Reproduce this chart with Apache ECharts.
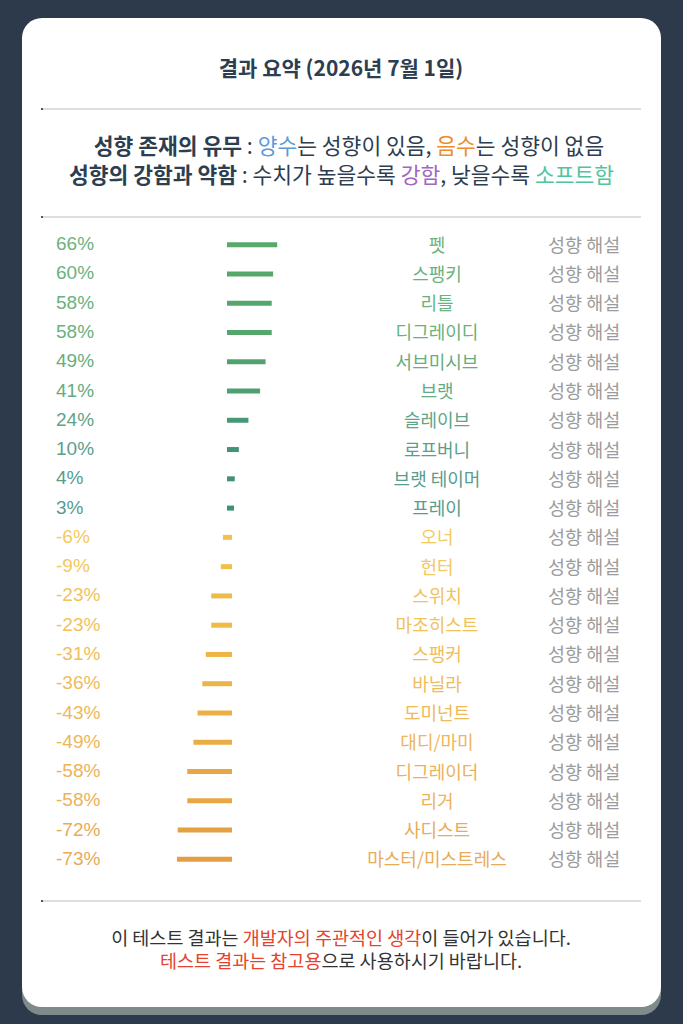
<!DOCTYPE html>
<html>
<head>
<meta charset="utf-8">
<script src="https://cdn.jsdelivr.net/npm/echarts@6/dist/echarts.min.js"></script>
<style>
  html, body { margin: 0; padding: 0; background: #2d3a4c; }
  #main { width: 683px; height: 1024px; }
</style>
</head>
<body>
<div id="main"></div>
<script>
// 성향 이름 (위에서 아래 순서)
const names = ['펫', '스팽키', '리틀', '디그레이디', '서브미시브', '브랫', '슬레이브', '로프버니', '브랫 테이머', '프레이',
  '오너', '헌터', '스위치', '마조히스트', '스팽커', '바닐라', '도미넌트', '대디/마미', '디그레이더', '리거', '사디스트', '마스터/미스트레스'];
// 성향 수치 (%)
const values = [66, 60, 58, 58, 49, 41, 24, 10, 4, 3,
  -6, -9, -23, -23, -31, -36, -43, -49, -58, -58, -72, -73];
const hintText = '성향 해설';

const KR = '"Noto Sans CJK KR", "Noto Sans", sans-serif';

// 값에 따라 색 보간 (양수: 청록→초록, 음수: 노랑→주황)
function hex2rgb(h) {
    return [parseInt(h.slice(1, 3), 16), parseInt(h.slice(3, 5), 16), parseInt(h.slice(5, 7), 16)];
}
function mixRgb(x, y, t) {
    return x.map((c, i) => Math.round(c + (y[i] - c) * t));
}
const posMax = Math.max(...values), negMin = Math.min(...values);
function rgbOf(v) {
    if (v >= 0) return mixRgb(hex2rgb('#3f8e7e'), hex2rgb('#58a96a'), v / posMax);
    return mixRgb(hex2rgb('#f3c648'), hex2rgb('#e59f42'), v / negMin);
}
function colorOf(v) {
    return 'rgb(' + rgbOf(v).join(',') + ')';
}
// 글자는 막대보다 조금 연하게
function textColorOf(v) {
    return 'rgb(' + mixRgb(rgbOf(v), [255, 255, 255], 0.12).join(',') + ')';
}

const chart = echarts.init(document.getElementById('main'), null, { renderer: 'svg' });

function hr(y) {
    return [
        { type: 'line', shape: { x1: 42, y1: y, x2: 641, y2: y }, style: { stroke: '#dedede', lineWidth: 2 } },
        { type: 'rect', shape: { x: 41, y: y - 1, width: 2, height: 2 }, style: { fill: '#555' } }
    ];
}

const option = {
    backgroundColor: '#2d3a4c',
    animation: false,
    grid: { left: 161, width: 137, top: 229, height: 644 },
    xAxis: { type: 'value', min: -100, max: 100, show: false },
    yAxis: { type: 'category', data: names, inverse: true, show: false },
    graphic: [
        // 카드
        { type: 'rect', z: -10, shape: { x: 22, y: 26, width: 639, height: 989, r: 20 }, style: { fill: '#7f8b8a' } },
        { type: 'rect', z: -9, shape: { x: 22, y: 18, width: 639, height: 989, r: 20 }, style: { fill: '#ffffff' } },
        {
            type: 'text', x: 341, y: 67,
            style: {
                text: '결과 요약 (2026년 7월 1일)', fill: '#2c3e50', font: 'bold 21px ' + KR,
                textAlign: 'center', textVerticalAlign: 'middle'
            }
        },
        ...hr(109),
        {
            type: 'text', x: 349, y: 144,
            style: {
                text: '{b|성향 존재의 유무} : {blue|양수}는 성향이 있음, {orange|음수}는 성향이 없음',
                textAlign: 'center', textVerticalAlign: 'middle',
                font: '21.5px ' + KR, fill: '#2c3e50',
                rich: {
                    b: { fontWeight: 'bold', fontSize: 21.5, fontFamily: KR, fill: '#2c3e50' },
                    blue: { fontSize: 21.5, fontFamily: KR, fill: '#5a9bd8' },
                    orange: { fontSize: 21.5, fontFamily: KR, fill: '#ee8b2c' }
                }
            }
        },
        {
            type: 'text', x: 341.5, y: 173,
            style: {
                text: '{b|성향의 강함과 약함} : 수치가 높을수록 {purple|강함}, 낮을수록 {green|소프트함}',
                textAlign: 'center', textVerticalAlign: 'middle',
                font: '21.5px ' + KR, fill: '#2c3e50',
                rich: {
                    b: { fontWeight: 'bold', fontSize: 21.5, fontFamily: KR, fill: '#2c3e50' },
                    purple: { fontSize: 21.5, fontFamily: KR, fill: '#a066c0' },
                    green: { fontSize: 21.5, fontFamily: KR, fill: '#52c39a' }
                }
            }
        },
        ...hr(217),
        ...hr(901),
        {
            type: 'text', x: 341, y: 937,
            style: {
                text: '이 테스트 결과는 {red|개발자의 주관적인 생각}이 들어가 있습니다.',
                textAlign: 'center', textVerticalAlign: 'middle',
                font: '18.5px ' + KR, fill: '#333333',
                rich: { red: { fontSize: 18.5, fontFamily: KR, fill: '#e5432f' } }
            }
        },
        {
            type: 'text', x: 341, y: 960,
            style: {
                text: '{red|테스트 결과는 참고용}으로 사용하시기 바랍니다.',
                textAlign: 'center', textVerticalAlign: 'middle',
                font: '18.5px ' + KR, fill: '#333333',
                rich: { red: { fontSize: 18.5, fontFamily: KR, fill: '#e5432f' } }
            }
        }
    ],
    series: [
        {
            type: 'custom',
            encode: { x: 0, y: 1 },
            data: values.map((v, i) => [v, i]),
            renderItem: function (params, api) {
                const v = api.value(0), idx = api.value(1);
                const p0 = api.coord([0, idx]);
                const p1 = api.coord([v, idx]);
                const y = p0[1];
                const tc = textColorOf(v);
                return {
                    type: 'group',
                    children: [
                        {
                            type: 'line',
                            shape: { x1: p0[0], y1: y + 1, x2: p1[0], y2: y + 1 },
                            style: { stroke: colorOf(v), lineWidth: 5, lineCap: 'square' }
                        },
                        {
                            type: 'text', x: 56, y: y,
                            style: {
                                text: v + '%', fill: tc, font: '19px "Liberation Sans", Arial, sans-serif',
                                textAlign: 'left', textVerticalAlign: 'middle'
                            }
                        },
                        {
                            type: 'text', x: 437, y: y,
                            style: {
                                text: names[idx], fill: tc, font: '18px ' + KR,
                                textAlign: 'center', textVerticalAlign: 'middle'
                            }
                        },
                        {
                            type: 'text', x: 548, y: y,
                            style: {
                                text: hintText, fill: '#9c9c9c', font: '18.5px ' + KR,
                                textAlign: 'left', textVerticalAlign: 'middle'
                            }
                        }
                    ]
                };
            }
        }
    ]
};

option && chart.setOption(option);
</script>
</body>
</html>
